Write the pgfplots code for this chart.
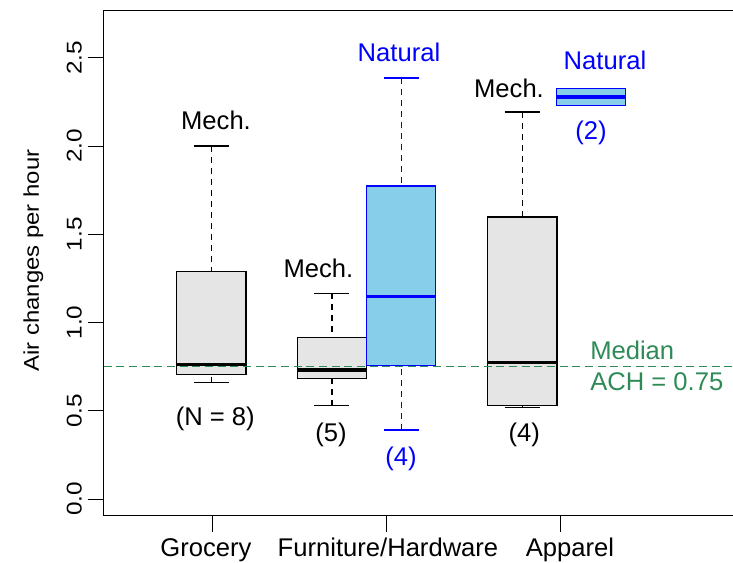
\documentclass[border=0pt]{standalone}
\usepackage{fontspec}
\setmainfont{Liberation Sans}
\usepackage{graphicx}
\usepackage{pgfplots}
\pgfplotsset{compat=1.18}
\usepgfplotslibrary{statistics}
\definecolor{rgray}{HTML}{E5E5E5}
\definecolor{rsky}{HTML}{87CEEB}
\definecolor{rgreen}{HTML}{2E8B57}
\definecolor{rblue}{HTML}{0000FF}
\pgfplotsset{
  rbox/.style={
    boxplot/draw direction=y,
    boxplot/box extend=69.3,
    boxplot/whisker extend=35,
    boxplot/every whisker/.style={draw=#1, line width=0.9pt},
    boxplot/every median/.style={draw=#1, line width=2.7pt},
    boxplot/draw/lower whisker/.code={%
      \draw[draw=#1, line width=0.9pt, dash pattern=on 4.5pt off 3.75pt]
        (boxplot cs:\pgfplotsboxplotvalue{lower whisker},0) --
        (boxplot cs:\pgfplotsboxplotvalue{lower quartile},0);
      \draw[draw=#1, line width=0.9pt]
        (boxplot whisker cs:\pgfplotsboxplotvalue{lower whisker},0) --
        (boxplot whisker cs:\pgfplotsboxplotvalue{lower whisker},1);
    },
    boxplot/draw/upper whisker/.code={%
      \draw[draw=#1, line width=0.9pt, dash pattern=on 4.5pt off 3.75pt]
        (boxplot cs:\pgfplotsboxplotvalue{upper whisker},0) --
        (boxplot cs:\pgfplotsboxplotvalue{upper quartile},0);
      \draw[draw=#1, line width=0.9pt]
        (boxplot whisker cs:\pgfplotsboxplotvalue{upper whisker},0) --
        (boxplot whisker cs:\pgfplotsboxplotvalue{upper whisker},1);
    },
  },
  mech/.style={rbox=black, boxplot/every box/.style={draw=black, fill=rgray, line width=0.9pt}},
  natu/.style={rbox=rblue, boxplot/every box/.style={draw=rblue, fill=rsky, line width=0.9pt}},
}
\newcommand{\ann}{\fontsize{19.2}{23}\selectfont}
\begin{document}
\begin{tikzpicture}
\begin{axis}[
  scale only axis,
  width=477.225pt, height=379.05pt,
  xmin=103.7, xmax=740,
  ymin=-0.0946, ymax=2.7688,
  clip=false,
  axis line style={line width=0.8pt},
  tick align=outside, tick pos=left,
  major tick length=12pt,
  every tick/.style={black, line width=0.7pt},
  xtick={212,386,560},
  xticklabel={\ifcase\ticknum Grocery\hspace*{9pt}\or \hspace*{3pt}Furniture/Hardware\or \hspace*{15pt}Apparel\fi},
  ytick={0,0.5,1,1.5,2,2.5},
  yticklabel={\scalebox{1.14}[1]{\pgfmathprintnumber[fixed,fixed zerofill,precision=1,assume math mode=true]{\tick}}},
  yticklabel style={xshift=-4.5pt},
  yticklabel style={rotate=90, anchor=base, inner sep=0pt, font=\fontsize{16}{19}\selectfont},
  xticklabel style={yshift=-18.75pt, anchor=base, inner sep=0pt, font=\ann},
  ylabel={\scalebox{1.12}[1]{Air changes per hour}},
  every axis y label/.style={at={(axis description cs:-0.1017,0.505)}, anchor=base, rotate=90, inner sep=0pt, font=\fontsize{16}{19}\selectfont},
]
% Grocery (Mech.)
\addplot[mech, boxplot prepared={draw position=211.3, lower whisker=0.659, lower quartile=0.704, median=0.763, upper quartile=1.288, upper whisker=2.0}] coordinates {};
% Furniture/Hardware (Mech.)
\addplot[mech, boxplot prepared={draw position=332.0, lower whisker=0.529, lower quartile=0.684, median=0.731, upper quartile=0.914, upper whisker=1.165}] coordinates {};
% Furniture/Hardware (Natural)
\addplot[natu, boxplot prepared={draw position=401.2, lower whisker=0.391, lower quartile=0.757, median=1.148, upper quartile=1.773, upper whisker=2.385}] coordinates {};
% Apparel (Mech.)
\addplot[mech, boxplot prepared={draw position=522.3, lower whisker=0.520, lower quartile=0.531, median=0.774, upper quartile=1.598, upper whisker=2.193}] coordinates {};
% Apparel (Natural)
\addplot[natu, boxplot prepared={draw position=591.0, lower whisker=2.228, lower quartile=2.228, median=2.279, upper quartile=2.327, upper whisker=2.327}] coordinates {};
% median ACH line
\addplot[rgreen, line width=0.9pt, dash pattern=on 6pt off 3.5pt] coordinates {(103.7,0.75) (740,0.75)};
% annotations
\node[anchor=base, inner sep=0pt, font=\ann] at (axis cs:216,2.091) {Mech.};
\node[anchor=base, inner sep=0pt, font=\ann] at (axis cs:215.3,0.4136) {(N = 8)};
\node[anchor=base, inner sep=0pt, font=\ann] at (axis cs:318.5,1.255) {Mech.};
\node[anchor=base, inner sep=0pt, font=\ann] at (axis cs:331,0.3246) {(5)};
\node[anchor=base, inner sep=0pt, font=\ann, text=rblue] at (axis cs:399,2.476) {Natural};
\node[anchor=base, inner sep=0pt, font=\ann, text=rblue] at (axis cs:401,0.1926) {(4)};
\node[anchor=base, inner sep=0pt, font=\ann] at (axis cs:509,2.276) {Mech.};
\node[anchor=base, inner sep=0pt, font=\ann] at (axis cs:524.3,0.3246) {(4)};
\node[anchor=base, inner sep=0pt, font=\ann, text=rblue] at (axis cs:605,2.431) {Natural};
\node[anchor=base, inner sep=0pt, font=\ann, text=rblue] at (axis cs:591,2.034) {(2)};
\node[anchor=base west, inner sep=0pt, font=\ann, text=rgreen] at (axis cs:590,0.7915) {Median};
\node[anchor=base west, inner sep=0pt, font=\ann, text=rgreen] at (axis cs:590,0.6136) {ACH = 0.75};
\end{axis}
\pgfresetboundingbox
\path[use as bounding box] ([xshift=-77.775pt, yshift=-35.475pt]current axis.south west) rectangle ([xshift=-5.25pt, yshift=7.725pt]current axis.north east);
\end{tikzpicture}
\end{document}
